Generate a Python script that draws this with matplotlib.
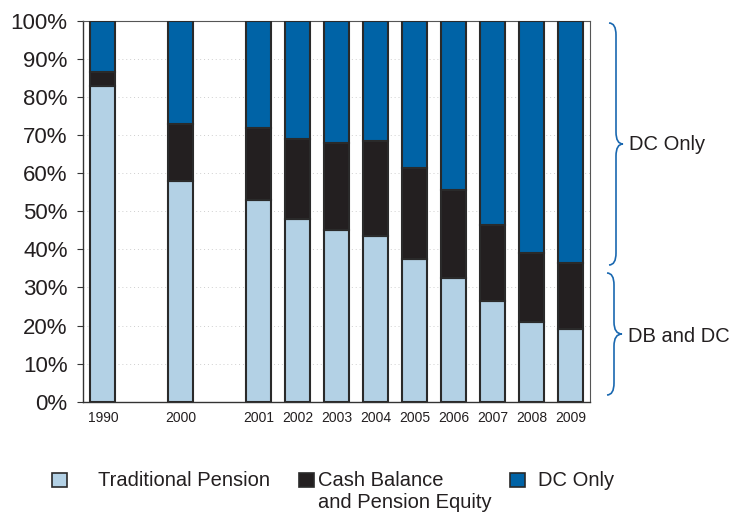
import matplotlib
matplotlib.use("Agg")
import matplotlib.pyplot as plt
import numpy as np
from matplotlib.path import Path
from matplotlib.patches import PathPatch, Rectangle
from matplotlib.ticker import PercentFormatter

plt.rcParams['font.family'] = ['Liberation Sans', 'DejaVu Sans']

# Plan type shares (% of plans)
years = ['1990', '2000', '2001', '2002', '2003', '2004', '2005', '2006', '2007', '2008', '2009']
traditional = [83, 58, 53, 48, 45, 43.5, 37.5, 32.5, 26.5, 21, 19]
cash_balance = [3.5, 15, 19, 21, 23, 25, 24, 23, 20, 18, 17.5]
dc_only = [13.5, 27, 28, 31, 32, 31.5, 38.5, 44.5, 53.5, 61, 63.5]

series_names = ['Traditional Pension', 'Cash Balance\nand Pension Equity', 'DC Only']
colors = ['#b3d1e5', '#231f20', '#0063a6']
text_color = '#231f20'
edge_color = '#2a2a2a'

# 1990 and 2000 are separated from the annual run by an empty slot
slot = []
pos = 0
for i, y in enumerate(years):
    slot.append(pos)
    pos += 2 if i < 2 else 1
slot = np.array(slot)

W, H = 730, 513
fig = plt.figure(figsize=(W / 100, H / 100), dpi=100)
ax = fig.add_axes([83 / W, 1 - 401.7 / H, (590 - 83) / W, (401.7 - 21) / H])

bottom = np.zeros(len(years))
for vals, col in zip([traditional, cash_balance, dc_only], colors):
    vals = np.asarray(vals, dtype=float)
    ax.bar(slot, vals, bottom=bottom, width=0.64, color=col,
           edgecolor=edge_color, linewidth=1.5, zorder=3)
    bottom += vals

ax.set_xlim(-0.51, 12.5)
ax.set_ylim(0, 100)
ax.set_yticks(np.arange(0, 101, 10))
ax.yaxis.set_major_formatter(PercentFormatter(decimals=0))
ax.set_xticks(slot)
ax.set_xticklabels(years)
ax.tick_params(axis='y', length=4, width=0.8, color='#333333', pad=7,
               labelsize=16, labelcolor=text_color)
ax.tick_params(axis='x', length=0, pad=7, labelsize=10, labelcolor=text_color)
ax.yaxis.grid(True, linestyle=(0, (1, 3)), color='#cfcfcf', linewidth=0.7, zorder=0)
ax.set_axisbelow(True)
for side in ['left', 'bottom']:
    ax.spines[side].set_color('#333333')
    ax.spines[side].set_linewidth(1.0)
for side in ['top', 'right']:
    ax.spines[side].set_color('#555555')
    ax.spines[side].set_linewidth(0.8)

# Overlay in pixel units for braces and legend
ov = fig.add_axes([0, 0, 1, 1])
ov.set_xlim(0, W)
ov.set_ylim(H, 0)
ov.axis('off')
ov.patch.set_alpha(0)


def brace(x_end, x_mid, x_tip, y0, y1, r=12, color='#1a68b0'):
    ym = (y0 + y1) / 2
    verts = [(x_end, y0), (x_mid, y0), (x_mid, y0 + r),
             (x_mid, ym - r),
             (x_mid, ym), (x_tip, ym),
             (x_mid, ym), (x_mid, ym + r),
             (x_mid, y1 - r),
             (x_mid, y1), (x_end, y1)]
    codes = [Path.MOVETO, Path.CURVE3, Path.CURVE3,
             Path.LINETO,
             Path.CURVE3, Path.CURVE3,
             Path.CURVE3, Path.CURVE3,
             Path.LINETO,
             Path.CURVE3, Path.CURVE3]
    ov.add_patch(PathPatch(Path(verts, codes), fill=False, edgecolor=color, linewidth=1.2))


brace(609, 616, 623, 23, 265)
brace(607, 614, 622, 273, 395)
ov.text(629, 145, 'DC Only', fontsize=14.5, color=text_color, va='center', ha='left')
ov.text(628, 336, 'DB and DC', fontsize=14.5, color=text_color, va='center', ha='left')

# Legend
legend_items = [(52, 98), (299, 318), (510, 538)]
for (sx, tx), name, col in zip(legend_items, series_names, colors):
    ov.add_patch(Rectangle((sx, 473), 15, 14, facecolor=col, edgecolor=edge_color, linewidth=1.2))
    ov.text(tx, 471, name, fontsize=14.5, color=text_color, va='top', ha='left',
            linespacing=1.2)

fig.savefig('out.png', dpi=100)
